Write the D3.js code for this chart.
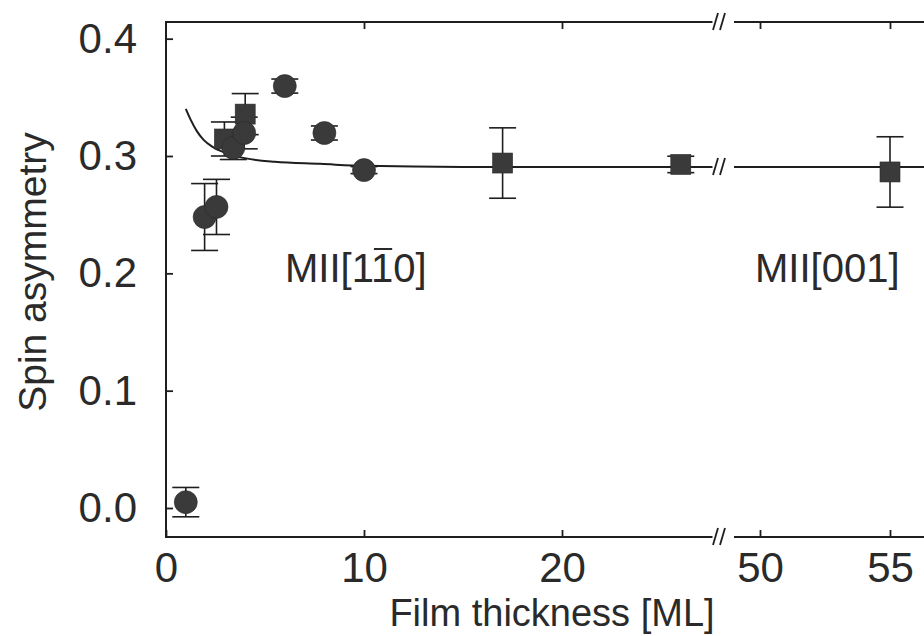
<!DOCTYPE html>
<html><head><meta charset="utf-8">
<script src="https://cdn.jsdelivr.net/npm/d3@7/dist/d3.min.js"></script>
<style>
html,body{margin:0;padding:0;background:#fff;}
text{font-family:"Liberation Sans",Arial,sans-serif;fill:#2a2a2a;}
</style></head>
<body>
<svg id="chart" width="924" height="636"></svg>
<script>
// ---- data ----
const circleX   = [1.0, 1.95, 2.55, 3.4, 3.95, 6.0, 8.0, 10.0];
const circleY   = [0.005, 0.248, 0.2566, 0.307, 0.3196, 0.3596, 0.3196, 0.288];
const circleErr = [0.0125, 0.0285, 0.0235, 0.010, 0.0135, 0.006, 0.006, 0.003];

const squareX   = [2.95, 4.0, 17.0, 26.0, 55.0];
const squareY   = [0.3145, 0.3357, 0.294, 0.2928, 0.2864];
const squareErr = [0.0145, 0.0175, 0.030, 0.007, 0.030];

const curveX = [1.0, 1.25, 1.55, 1.9, 2.35, 3.0, 3.9, 5.5, 7.8, 10, 15, 20, 27.6];
const curveY = [0.3402, 0.3308, 0.3214, 0.3137, 0.3078, 0.3027, 0.2984, 0.295, 0.2933, 0.2916, 0.2907, 0.2907, 0.2907];
const curveRightX = [49, 56.5];
const curveRightY = [0.2907, 0.2907];

const xTicksLeft  = [0, 10, 20];
const xTicksRight = [50, 55];
const yTicks = [0.0, 0.1, 0.2, 0.3, 0.4];

const xTitle = "Film thickness [ML]";
const yTitle = "Spin asymmetry";
const label1 = "MII[110]";
const label2 = "MII[001]";

// ---- scales ----
const svg = d3.select("#chart");
const xL = d3.scaleLinear().domain([0, 10]).range([166, 364]);
const xR = d3.scaleLinear().domain([50, 55]).range([760, 890]);
const y  = d3.scaleLinear().domain([0, 0.3]).range([508, 156]);
const xAt = d => d > 40 ? xR(d) : xL(d);

const topY = 22, bottomY = 537, leftX = 166;
const breakL = xL(27.6), breakR = xR(49), rightEdge = 924;
const ink = "#1e1e1e";

// ---- frame ----
const frame = svg.append("g").attr("stroke", ink).attr("stroke-width", 2).attr("fill", "none");
[topY, bottomY].forEach(yy => {
  frame.append("line").attr("x1", leftX - 1).attr("x2", breakL).attr("y1", yy).attr("y2", yy);
  frame.append("line").attr("x1", breakR).attr("x2", rightEdge).attr("y1", yy).attr("y2", yy);
});
frame.append("line").attr("x1", leftX).attr("x2", leftX).attr("y1", topY).attr("y2", bottomY);

function breakMark(x0, yy) {
  const g = svg.append("g").attr("stroke", ink).attr("stroke-width", 1.8);
  [0, 7].forEach(o => g.append("line")
    .attr("x1", x0 + o).attr("y1", yy + 8).attr("x2", x0 + o + 5).attr("y2", yy - 9));
}
breakMark(713, topY);
breakMark(713, bottomY);

// ---- axes ----
function styleAxis(g) {
  g.select(".domain").remove();
  g.selectAll(".tick line").attr("stroke", ink).attr("stroke-width", 1.8);
  g.selectAll(".tick text").attr("font-size", 42).attr("fill", "#2a2a2a")
    .attr("font-family", "Liberation Sans, Arial, sans-serif");
}
svg.append("g").attr("transform", `translate(0,${bottomY})`)
  .call(d3.axisBottom(xL).tickValues(xTicksLeft).tickSize(-7).tickPadding(15).tickFormat(d3.format("d")))
  .call(styleAxis);
svg.append("g").attr("transform", `translate(0,${bottomY})`)
  .call(d3.axisBottom(xR).tickValues(xTicksRight).tickSize(-7).tickPadding(15).tickFormat(d3.format("d")))
  .call(styleAxis);
svg.append("g").attr("transform", `translate(0,${topY})`)
  .call(d3.axisTop(xL).tickValues(xTicksLeft.filter(d => d > 0)).tickSize(-7).tickFormat(""))
  .call(styleAxis);
svg.append("g").attr("transform", `translate(0,${topY})`)
  .call(d3.axisTop(xR).tickValues(xTicksRight).tickSize(-7).tickFormat(""))
  .call(styleAxis);
svg.append("g").attr("transform", `translate(${leftX},0)`)
  .call(d3.axisLeft(y).tickValues(yTicks).tickSize(-7).tickPadding(29).tickFormat(d3.format(".1f")))
  .call(styleAxis);

// ---- titles ----
svg.append("text").attr("x", 552).attr("y", 626).attr("text-anchor", "middle")
  .attr("font-size", 38).text(xTitle);
svg.append("text").attr("transform", "translate(46,272) rotate(-90)").attr("text-anchor", "middle")
  .attr("font-size", 39).text(yTitle);

// ---- curve ----
const line = d3.line().x(d => d[0]).y(d => d[1]).curve(d3.curveMonotoneX);
svg.append("path")
  .attr("d", line(curveX.map((d, i) => [xL(d), y(curveY[i])])))
  .attr("fill", "none").attr("stroke", ink).attr("stroke-width", 2);
svg.append("path")
  .attr("d", line(curveRightX.map((d, i) => [xR(d), y(curveRightY[i])])))
  .attr("fill", "none").attr("stroke", ink).attr("stroke-width", 2);
breakMark(713, y(0.2907));

// ---- error bars ----
function errBars(xs, ys, es) {
  const g = svg.append("g").attr("stroke", ink).attr("stroke-width", 1.6);
  xs.forEach((d, i) => {
    const cx = xAt(d), y1 = y(ys[i] + es[i]), y2 = y(ys[i] - es[i]);
    g.append("line").attr("x1", cx).attr("x2", cx).attr("y1", y1).attr("y2", y2);
    [y1, y2].forEach(yy => g.append("line").attr("x1", cx - 13.5).attr("x2", cx + 13.5).attr("y1", yy).attr("y2", yy));
  });
}
errBars(circleX, circleY, circleErr);
errBars(squareX, squareY, squareErr);

// ---- markers ----
const fill = "#3a3a3a";
svg.append("g").selectAll("rect").data(squareX).join("rect")
  .attr("x", (d) => xAt(d) - 10).attr("y", (d, i) => y(squareY[i]) - 10)
  .attr("width", 20).attr("height", 20).attr("fill", fill).attr("stroke", "#2a2a2a").attr("stroke-width", 0.6);
svg.append("g").selectAll("circle").data(circleX).join("circle")
  .attr("cx", d => xAt(d)).attr("cy", (d, i) => y(circleY[i])).attr("r", 11.5)
  .attr("fill", fill).attr("stroke", "#2a2a2a").attr("stroke-width", 0.6);

// ---- labels ----
const t1 = svg.append("text").attr("x", 285).attr("y", 282).attr("font-size", 40).text(label1);
svg.append("text").attr("x", 755).attr("y", 282).attr("font-size", 40).text(label2);
// overline on the second "1" of [110]
const ext = t1.node().getExtentOfChar(5);
svg.append("line").attr("x1", ext.x + 3).attr("x2", ext.x + ext.width - 1)
  .attr("y1", ext.y + 3).attr("y2", ext.y + 3).attr("stroke", "#2a2a2a").attr("stroke-width", 2);
</script>
</body></html>
